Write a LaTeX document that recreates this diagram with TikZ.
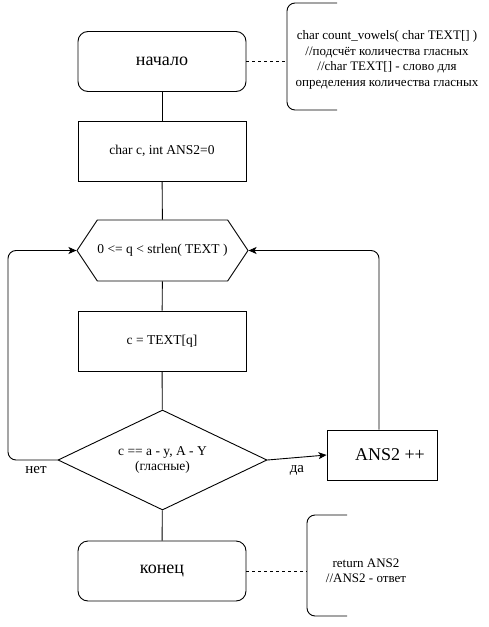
\documentclass[tikz,border=0pt]{standalone}
\usepackage{fontspec}
\setmainfont{Liberation Serif}
\usetikzlibrary{positioning,arrows.meta,shapes.geometric,shapes.symbols}

\begin{document}
\begin{tikzpicture}[
    x=1pt, y=-1pt,
    line width=0.9pt,
    font=\fontsize{13.5}{15}\selectfont,
    box/.style={
        draw,
        align=center,
        inner sep=0pt,
        minimum width=168pt,
        minimum height=60pt
    },
    terminal/.style={
        box,
        rounded corners=10pt,
        font=\fontsize{18}{20}\selectfont
    },
    loopbox/.style={
        draw,
        shape=signal,
        signal to=west and east,
        signal pointer angle=112.6,
        inner sep=0pt,
        minimum width=171pt,
        minimum height=61pt
    },
    decision/.style={
        draw,
        diamond,
        aspect=2.09,
        align=center,
        inner sep=0pt,
        minimum width=209pt,
        minimum height=100pt
    },
    note/.style={align=center, font=\fontsize{13}{15.5}\selectfont},
    bracket/.style={rounded corners=8pt},
    branch/.style={font=\fontsize{15}{17}\selectfont},
    arrow/.style={-{Stealth[length=8pt,width=7pt,inset=2pt]}},
    link/.style={dashed, line width=0.6pt}
]
\useasboundingbox (0,0) rectangle (488,627);

\node[terminal] (start) at (162,61.5) {начало};
\node[box] (init) at (162,151) {char c, int ANS2=0};
\node[loopbox] (cond) at (162.5,250.5) {0 <= q < strlen( TEXT )};
\node[box] (read) at (162,341) {c = TEXT[q]};
\node[decision] (vowel) at (162.5,460) {c == a - y, A - Y\\(гласные)};
\node[box, minimum width=110pt, minimum height=50pt,
      font=\fontsize{18}{20}\selectfont] (inc) at (382,455) {\hspace{16pt}ANS2 ++};
\node[terminal] (stop) at (162,571) {конец};

\node[branch] (no) at (36,470) {нет};
\node[branch] (yes) at (297,470) {да};

\node[note] (head) at (387,60) {char count\_vowels( char TEXT[] )\\//подсчёт количества гласных\\//char TEXT[] - слово для\\определения количества гласных};
\node[note] (tail) at (366,571) {return ANS2\\//ANS2 - ответ};

\coordinate (headb) at (287,61.5);
\coordinate (tailb) at (307,571);
\coordinate (leftrail) at (8,460);

\draw[bracket] (337,3) -- (287,3) -- (287,110) -- (337,110);
\draw[bracket] (347,515) -- (307,515) -- (307,616) -- (347,616);

\draw (start) -- (init);
\draw (init) -- (cond);
\draw (cond) -- (read);
\draw (read) -- (vowel);
\draw (vowel) -- (stop);
\draw[arrow] (vowel.east) -- (inc.west);
\draw[arrow, rounded corners=8pt] (vowel.west) -- (leftrail) |- (cond.west);
\draw[arrow, rounded corners=8pt] ([xshift=-3pt]inc.north) |- (cond.east);

\draw[link] (start.east) -- (headb);
\draw[link] (stop.east) -- (tailb);

\end{tikzpicture}
\end{document}
